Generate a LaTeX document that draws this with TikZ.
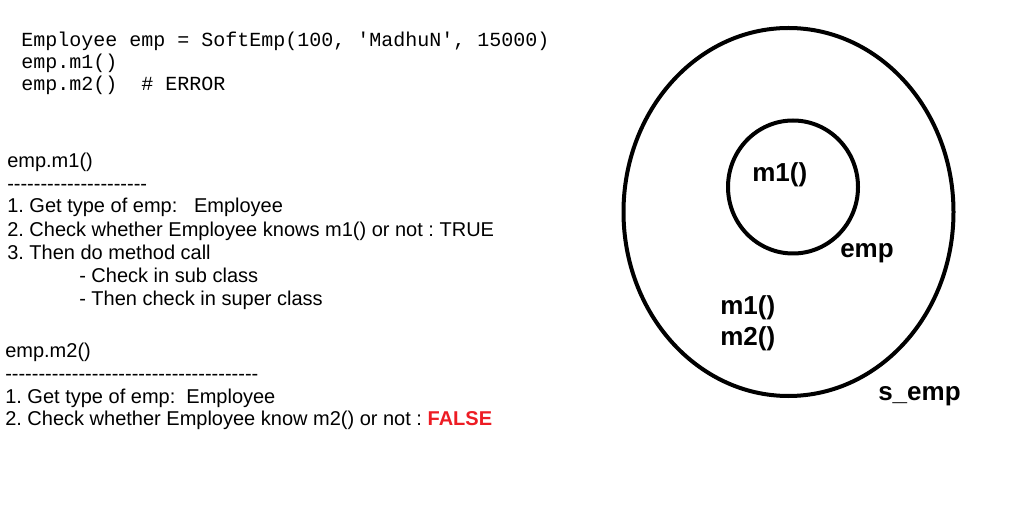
\documentclass[tikz,border=0pt]{standalone}
\usepackage{fontspec}
\newfontfamily\arialf{Liberation Sans}
\newfontfamily\courf{Liberation Mono}
\definecolor{falsered}{HTML}{ED1C24}
\newcommand\hyphrow[1]{\foreach \i in {1,...,#1}{-\kern0pt}}
\frenchspacing
\begin{document}
\begin{tikzpicture}[x=0.75pt,y=-0.75pt,
  codetxt/.style={inner sep=0pt,anchor=base west,font=\courf\fontsize{15}{16.5}\selectfont},
  plaintxt/.style={inner sep=0pt,anchor=base west,font=\arialf\frenchspacing\fontsize{15}{17.25}\selectfont},
  boldlbl/.style={inner sep=0pt,anchor=base west,font=\arialf\bfseries\fontsize{19.5}{22}\selectfont},
  ring/.style={draw=black,line width=3pt}]
\useasboundingbox (0,0) rectangle (1025,527);
% code
\node[codetxt] (c1) at (21,47) {Employee emp = SoftEmp(100, 'MadhuN', 15000)};
\node[codetxt] (c2) at (21,69) {emp.m1()};
\node[codetxt] (c3) at (21,91) {emp.m2()\ \ \# ERROR};
% block 1
\node[plaintxt] (a0) at (7,168) {emp.m1()};
\node[plaintxt] (ad) at (7,191) {\hyphrow{21}};
\node[plaintxt] (a1) at (7,213) {1. Get type of emp:\ \ \ Employee};
\node[plaintxt] (a2) at (7,236.5) {2. Check whether Employee knows m1() or not : TRUE};
\node[plaintxt] (a3) at (7,259.5) {3. Then do method call};
\node[plaintxt] (a4) at (79,282.5) {- Check in sub class};
\node[plaintxt] (a5) at (79,305.5) {- Then check in super class};
% block 2
\node[plaintxt] (b0) at (5,358) {emp.m2()};
\node[plaintxt] (bd) at (5,381) {\hyphrow{38}};
\node[plaintxt] (b1) at (5,403) {1. Get type of emp:\ \ Employee};
\node[plaintxt] (b2) at (5,426) {2. Check whether Employee know m2() or not : {\bfseries\color{falsered}FALSE}};
% circles
\draw[ring] (788.5,212) ellipse [x radius=165,y radius=184];
\draw[ring] (793,187) ellipse [x radius=65,y radius=66.5];
\node[boldlbl] (l1) at (752,182) {m1()};
\node[boldlbl] (l2) at (840,258) {emp};
\node[boldlbl] (l3) at (720,315) {m1()};
\node[boldlbl] (l4) at (720,345) {m2()};
\node[boldlbl] (l5) at (878,400) {s\_emp};
\end{tikzpicture}
\end{document}
